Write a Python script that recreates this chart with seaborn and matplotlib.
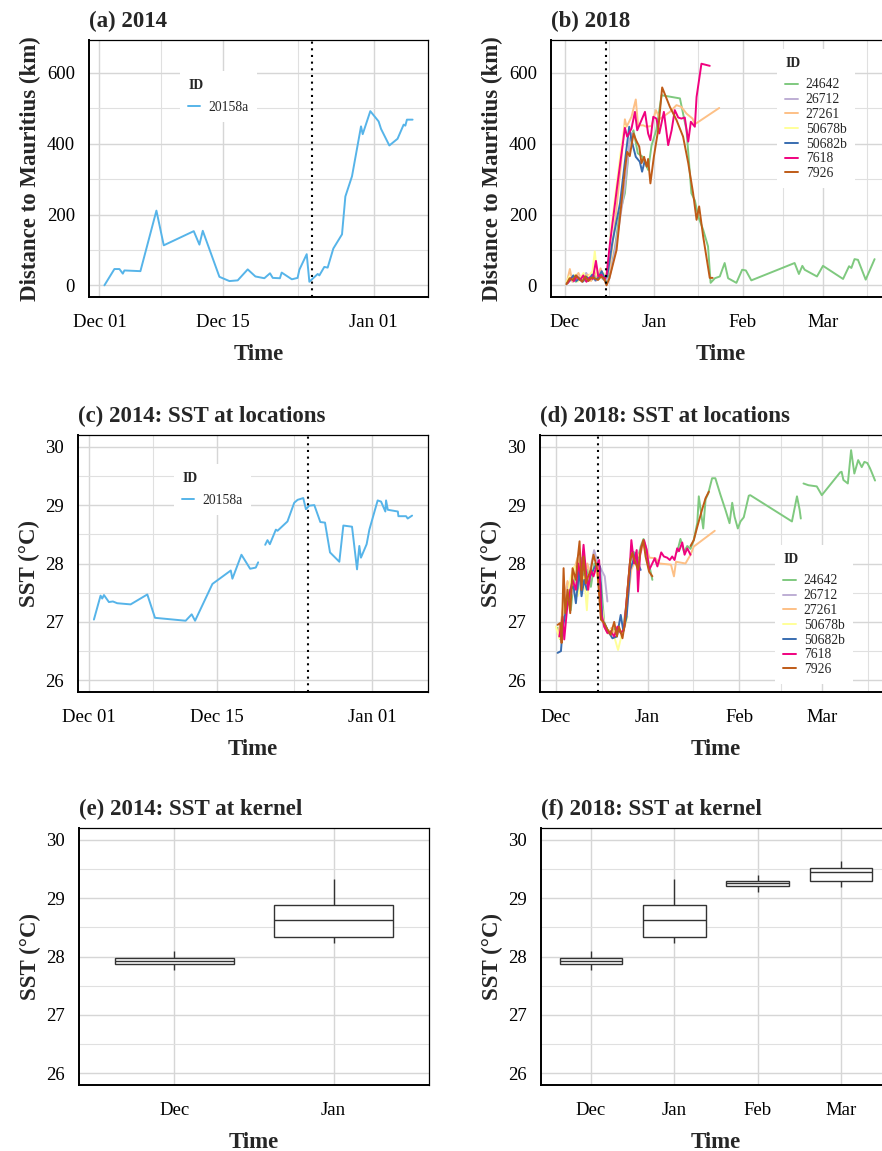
import numpy as np
import pandas as pd
import seaborn as sns
import matplotlib.pyplot as plt
import matplotlib.dates as mdates
from matplotlib.lines import Line2D
from matplotlib.ticker import MultipleLocator, FixedLocator

sns.set_style('white')
plt.rcParams['font.family'] = ['Liberation Serif', 'DejaVu Serif']

# ---- 2014 track (days after 1 Dec 2014) ----
dist14_days = [0.56, 1.69, 2.26, 2.64, 2.82, 4.63, 6.44, 7.27, 10.66, 11.30, 11.68, 13.56, 14.69, 15.63, 16.76,
               17.63, 18.64, 19.28, 19.59, 20.40, 20.60, 21.75, 22.40, 22.60, 23.43, 23.73, 24.67, 24.86, 25.42,
               25.80, 26.44, 27.42, 27.80, 28.55, 29.57, 29.76, 30.62, 31.56, 31.83, 32.77, 33.70, 34.39, 34.58,
               34.76, 35.40]
dist14_km = [0, 46, 46, 33, 42, 40, 211, 113, 153, 115, 154, 24, 12, 14, 45,
             25, 20, 34, 21, 20, 36, 17, 21, 44, 88, 10, 32, 28, 52,
             50, 104, 144, 251, 308, 449, 427, 492, 463, 442, 395, 414, 454, 451,
             468, 468]

nan = np.nan
sst14_days = [0.55, 1.28, 1.46, 1.65, 2.19, 2.63, 3.10, 4.57, 6.40, 7.24, 10.60, 11.26, 11.63, 13.53, 15.54,
              15.72, 16.71, 17.66, 18.28, 18.54, 18.90, 19.31, 19.56, 19.82, 20.48, 20.66, 21.75, 22.49, 22.86,
              23.48, 23.77, 24.14, 24.69, 25.35, 25.86, 26.41, 27.43, 27.87, 28.82, 29.37, 29.62, 29.80, 30.42,
              30.72, 31.63, 32.00, 32.47, 32.55, 32.74, 33.84, 33.90, 34.74, 34.92, 35.40]
sst14_c = [27.04, 27.45, 27.40, 27.46, 27.34, 27.35, 27.32, 27.30, 27.47, 27.07, 27.02, 27.13, 27.02, 27.65, 27.88,
           27.74, 28.15, 27.91, 27.93, 28.02, nan, 28.32, 28.40, 28.33, 28.58, 28.56, 28.72, 29.04, 29.09,
           29.12, 28.93, 28.99, 29.00, 28.71, 28.70, 28.19, 28.03, 28.65, 28.63, 27.90, 28.30, 28.10, 28.33,
           28.58, 29.08, 29.06, 28.89, 29.08, 28.92, 28.89, 28.81, 28.81, 28.77, 28.82]

# ---- 2018 tracks: distance (days after 1 Dec 2018) ----
d_24642_days = [0.6, 1.6, 2.7, 3.8, 4.9, 6.0, 7.1, 8.2, 9.3, 10.4, 11.5, 12.6, 13.7, 14.6,
                16.0, 17.5, 19.0, 20.9, 22.6, 23.9, 25.4, 27.1, 29.0, 30.2, 31.9, 33.7, 40.1, 42.4, 44.1,
                45.3, 46.5, 48.2, 49.9, 50.8, 52.3, 54.0, 55.7, 56.9, 59.8, 61.8, 63.1, 65.0, 80.1, 81.6,
                82.8, 83.6, 87.9, 90.0, 97.0, 99.1, 99.9, 101.0, 102.2, 104.9, 108.0]
d_24642_km = [5, 12, 22, 10, 18, 25, 12, 20, 15, 28, 18, 22, 15, 12,
              40, 110, 200, 260, 410, 438, 373, 363, 326, 395, 440, 537, 528, 438, 260,
              240, 194, 157, 110, 7, 20, 25, 63, 20, 7, 44, 42, 14, 63, 32,
              55, 44, 25, 55, 18, 54, 49, 74, 72, 16, 74]
d_26712_days = [0.8, 1.9, 3.0, 4.1, 5.2, 6.3, 7.4, 8.5, 9.6, 10.7, 11.8, 12.9, 14.0, 14.8,
                15.5, 17.0, 18.6, 20.0, 20.9, 22.6, 23.5]
d_26712_km = [8, 18, 10, 30, 15, 22, 35, 18, 25, 12, 30, 20, 25, 15,
              20, 80, 157, 230, 279, 410, 430]
d_27261_days = [0.6, 1.7, 2.6, 3.6, 4.7, 5.8, 6.9, 8.0, 9.1, 10.2, 11.3, 12.4, 13.5, 14.6,
                15.5, 17.5, 19.5, 20.9, 21.5, 23.2, 24.7, 25.5, 27.3, 28.4, 30.2, 31.7, 33.1, 36.6, 38.9,
                40.6, 42.4, 44.5, 45.3, 53.8]
d_27261_km = [7, 46, 10, 20, 35, 15, 25, 30, 12, 40, 20, 48, 22, 30,
              40, 180, 340, 469, 448, 476, 525, 452, 452, 448, 450, 495, 470, 490, 509,
              504, 485, 471, 455, 501]
d_50678b_days = [0.5, 1.5, 2.5, 3.5, 4.5, 5.5, 6.5, 7.5, 8.5, 9.6, 10.4, 11.2, 12.3, 13.4, 14.5,
                 15.5, 16.0, 17.5, 19.5, 20.9]
d_50678b_km = [10, 25, 15, 30, 10, 22, 35, 15, 28, 40, 96, 30, 20, 35, 25,
               80, 150, 250, 380, 450]
d_50682b_days = [0.7, 1.8, 2.9, 4.0, 5.1, 6.2, 7.3, 8.4, 9.5, 10.6, 11.7, 12.8, 13.9, 14.7,
                 15.1, 16.5, 19.2, 20.9, 22.4, 23.2, 24.7, 26.1, 26.9, 27.9]
d_50682b_km = [5, 15, 28, 12, 20, 10, 25, 18, 30, 15, 22, 40, 20, 25,
               44, 120, 232, 349, 448, 410, 363, 349, 321, 354]
d_7618_days = [0.9, 2.0, 3.1, 4.2, 5.3, 6.4, 7.5, 8.6, 9.7, 10.8, 11.6, 12.7, 13.8, 14.5,
               15.7, 18.2, 20.9, 21.7, 23.2, 24.4, 25.2, 26.7, 27.9, 29.0, 29.8, 30.8, 31.9, 32.9, 34.5,
               36.0, 37.2, 38.3, 39.5, 40.6, 41.8, 43.0, 43.9, 45.3, 45.9, 47.6, 50.5]
d_7618_km = [6, 20, 12, 25, 15, 28, 10, 22, 18, 69, 25, 30, 15, 30,
             119, 279, 445, 420, 443, 490, 438, 467, 490, 429, 410, 476, 471, 429, 490,
             396, 438, 495, 474, 471, 474, 406, 462, 448, 532, 626, 620]
d_7926_days = [0.5, 1.6, 2.7, 3.8, 4.9, 6.0, 7.1, 8.2, 9.3, 10.4, 11.5, 12.6, 13.7, 14.5,
               15.5, 18.0, 20.9, 21.7, 22.6, 23.9, 24.8, 25.9, 26.7, 27.6, 28.5, 29.0, 29.8, 31.0, 32.5,
               33.9, 36.6, 38.9, 41.2, 43.0, 44.7, 45.9, 46.8, 48.2, 50.5, 51.5]
d_7926_km = [3, 20, 15, 28, 18, 10, 25, 12, 22, 20, 15, 25, 18, 0,
             20, 100, 326, 377, 365, 429, 410, 392, 345, 363, 335, 357, 288, 363, 438,
             559, 504, 467, 420, 345, 260, 185, 223, 138, 21, 21]

# ---- 2018 tracks: SST at locations (nan = gap) ----
s_24642_days = [0.56, 1.5, 2.6, 3.9, 5.0, 6.2, 7.3, 8.4, 9.5, 10.6, 11.8, 13.0, 14.0, 15.3, 16.3,
                17.5, 18.8, 20.0, 21.2, 22.5, 23.8, 25.0, 26.3, 27.5, 28.7, 29.6, 31.0, 32.6, 36.0,
                41.0, 42.1, 43.3, 44.4, 45.5, 46.6, 47.8, 48.3, 49.8, 50.6, 51.5, 52.8, 53.9, 55.6, 57.3,
                58.7, 59.6, 60.4, 61.5, 62.4, 63.5, 65.2, 65.7, 79.8, 81.5, 82.4, 82.8, 83.2,
                83.7, 85.4, 88.2, 89.9, 96.1, 96.6, 97.2, 98.7, 99.8, 100.9, 102.2, 103.4, 104.3, 105.3,
                106.2, 106.7, 107.9]
s_24642_c = [26.9, 26.7, 27.3, 27.6, 27.2, 27.8, 27.5, 28.1, 27.7, 27.9, 27.6, 28.0, 27.85, 27.63, 27.0,
             26.85, 26.8, 26.9, 26.85, 26.8, 27.3, 28.0, 28.2, 28.05, 28.3, 28.42, 28.1, 27.72, nan,
             28.2, 28.42, 28.2, 28.3, 28.25, 28.4, 28.7, 29.15, 28.6, 29.1, 29.2, 29.46, 29.46, 29.18, 28.92,
             28.69, 29.04, 28.8, 28.6, 28.72, 28.79, 29.16, 29.17, 28.72, 29.15, 28.92, 28.77, nan,
             29.37, 29.34, 29.32, 29.17, 29.56, 29.57, 29.43, 29.37, 29.94, 29.54, 29.77, 29.65, 29.74, 29.72,
             29.63, 29.57, 29.42]
s_26712_days = [1.12, 2.8, 3.93, 5.06, 6.74, 8.43, 10.1, 11.8, 12.9, 14.0, 15.4, 16.5, 17.4]
s_26712_c = [26.87, 27.21, 27.61, 27.44, 27.66, 27.78, 27.55, 27.95, 28.23, 28.03, 27.89, 27.78, 27.35]
s_27261_days = [0.6, 1.7, 2.8, 3.9, 5.0, 6.2, 7.3, 8.4, 9.5, 10.6, 11.8, 13.0, 14.2, 15.3, 16.5,
                17.6, 18.8, 20.0, 21.2, 22.4, 23.5, 24.6, 25.5, 27.3, 28.7, 30.0, 31.6, 33.7, 35.0,
                38.9, 39.9, 40.6, 43.8, 45.5, 46.6, 53.7]
s_27261_c = [26.8, 27.0, 27.4, 27.7, 27.5, 27.9, 28.1, 27.8, 27.6, 28.0, 27.8, 27.9, 28.0, 27.3, 26.9,
             26.8, 26.9, 26.8, 26.9, 26.8, 27.0, 27.5, 27.9, 28.1, 28.2, 28.35, 28.1, 28.09, 28.0,
             27.98, 27.78, 28.03, 28.0, 28.15, 28.29, 28.56]
s_50678b_days = [0.0, 1.12, 2.8, 3.93, 5.06, 6.18, 7.3, 8.43, 9.55, 10.45, 11.2, 12.4, 13.5, 15.2, 16.3,
                 17.4, 18.5, 19.7, 21.0, 22.1, 23.3, 24.2]
s_50678b_c = [26.92, 26.72, 27.32, 27.44, 27.78, 27.95, 27.44, 27.61, 27.78, 27.2, 27.83, 27.89, 27.92, 27.44,
              26.92, 26.84, 26.87, 26.75, 26.52, 26.75, 26.92, 27.09]
s_50682b_days = [0.56, 1.69, 2.25, 3.37, 4.16, 4.83, 5.96, 6.74, 7.87, 8.65, 9.55, 10.45, 11.6, 12.9, 14.0,
                 14.9, 15.7, 16.85, 18.0, 19.1, 20.6, 21.9, 22.8, 23.9, 25.1, 25.8, 27.0, 27.75, 28.65]
s_50682b_c = [26.47, 26.5, 26.87, 27.21, 27.32, 27.55, 27.61, 27.32, 27.89, 27.44, 27.72, 27.55, 27.78, 27.92, 28.0,
              27.95, 27.04, 26.92, 26.81, 26.72, 26.75, 27.12, 26.84, 27.09, 27.89, 28.0, 28.18, 28.0, 27.89]
s_7618_days = [1.12, 2.25, 2.8, 3.93, 5.62, 6.74, 7.53, 8.43, 9.33, 10.1, 10.9, 11.8, 12.7, 13.5, 14.6,
               15.4, 16.3, 17.4, 18.5, 19.7, 20.8, 21.9, 23.0, 24.2, 25.1, 25.5, 26.4, 27.3, 27.75,
               28.4, 28.9, 29.8, 30.7, 31.5, 32.2, 33.4, 34.3, 35.6, 36.5, 37.6, 38.5, 39.3, 40.1,
               41.0, 41.6, 42.7, 43.5, 44.4, 45.5]
s_7618_c = [26.75, 27.09, 26.70, 27.32, 27.72, 27.55, 28.0, 27.78, 28.32, 27.89, 27.55, 27.89, 27.78, 27.92, 28.06,
            27.12, 26.92, 26.81, 26.84, 26.75, 26.92, 26.81, 26.87, 27.55, 28.06, 28.40, 28.0, 28.23, 27.52,
            28.12, 28.29, 28.40, 28.23, 27.89, 27.96, 28.09, 27.95, 28.19, 28.12, 28.10, 28.06, 28.12, 28.06,
            28.26, 28.21, 28.36, 28.15, 28.26, 28.15]
s_7926_days = [0.56, 1.46, 1.91, 2.58, 3.15, 3.93, 4.83, 5.62, 6.74, 7.3, 7.98, 8.65, 9.33, 10.1, 10.9,
               11.8, 12.7, 13.5, 14.0, 15.2, 16.3, 17.4, 18.5, 19.7, 20.6, 21.3, 22.5, 23.3, 24.2,
               25.1, 25.8, 27.0, 27.75, 28.65, 29.55, 30.3, 31.5, 32.6, 39.0,
               45.5, 46.6, 47.8, 49.4, 50.6, 51.7]
s_7926_c = [26.95, 26.98, 26.64, 27.92, 27.15, 27.55, 27.15, 27.92, 27.72, 28.06, 28.38, 27.55, 28.12, 27.66, 27.78,
            27.89, 28.15, 28.0, 27.89, 27.04, 26.98, 26.87, 26.78, 27.0, 26.75, 26.92, 26.72, 26.98, 27.55,
            28.06, 28.18, 28.0, 27.89, 28.23, 28.40, 28.12, 27.86, 27.78, nan,
            28.30, 28.40, 28.63, 28.92, 29.12, 29.23]

# ---- SST at kernel, five-number summaries per month ----
kernel_months_14 = ['Dec', 'Jan']
kernel_months_18 = ['Dec', 'Jan', 'Feb', 'Mar']
kernel_dec = [27.77, 27.88, 27.93, 27.97, 28.09]
kernel_jan = [28.23, 28.33, 28.62, 28.89, 29.32]
kernel_feb = [29.11, 29.20, 29.25, 29.30, 29.39]
kernel_mar = [29.19, 29.30, 29.44, 29.52, 29.63]

ids_2014 = ['20158a']
ids_2018 = ['24642', '26712', '27261', '50678b', '50682b', '7618', '7926']
pal14 = {'20158a': '#56B4E9'}
pal18 = dict(zip(ids_2018, ['#7FC97F', '#BEAED4', '#FDC086', '#FFFF99', '#386CB0', '#F0027F', '#BF5B17']))

event_2014 = '2014-12-25'
event_2018 = '2018-12-15 08:00'
ticks_2014 = ['2014-11-15', '2014-12-01', '2014-12-15', '2015-01-01', '2015-01-15']
ticks_2018 = ['2018-11-01', '2018-12-01', '2019-01-01', '2019-02-01', '2019-03-01', '2019-04-01']


def track_frame(tracks, start):
    parts = []
    for ident, (days, vals) in tracks.items():
        part = pd.DataFrame({'days': days, 'value': vals})
        part['seg'] = part['value'].isna().cumsum()
        part = part.dropna().copy()
        part['ID'] = ident
        part['Time'] = pd.Timestamp(start) + pd.to_timedelta(part['days'], unit='D')
        parts.append(part)
    return pd.concat(parts, ignore_index=True)


dist14 = track_frame({'20158a': (dist14_days, dist14_km)}, '2014-12-01')
sst14 = track_frame({'20158a': (sst14_days, sst14_c)}, '2014-12-01')
dist18 = track_frame({'24642': (d_24642_days, d_24642_km), '26712': (d_26712_days, d_26712_km),
                      '27261': (d_27261_days, d_27261_km), '50678b': (d_50678b_days, d_50678b_km),
                      '50682b': (d_50682b_days, d_50682b_km), '7618': (d_7618_days, d_7618_km),
                      '7926': (d_7926_days, d_7926_km)}, '2018-12-01')
sst18 = track_frame({'24642': (s_24642_days, s_24642_c), '26712': (s_26712_days, s_26712_c),
                     '27261': (s_27261_days, s_27261_c), '50678b': (s_50678b_days, s_50678b_c),
                     '50682b': (s_50682b_days, s_50682b_c), '7618': (s_7618_days, s_7618_c),
                     '7926': (s_7926_days, s_7926_c)}, '2018-12-01')

kern14 = pd.DataFrame({'month': np.repeat(kernel_months_14, 5),
                       'sst': kernel_dec + kernel_jan})
kern18 = pd.DataFrame({'month': np.repeat(kernel_months_18, 5),
                       'sst': kernel_dec + kernel_jan + kernel_feb + kernel_mar})

W, H = 882, 1151
fig = plt.figure(figsize=(W / 100, H / 100), dpi=100)


def px_axes(x0, y0, x1, y1):
    return fig.add_axes([x0 / W, 1 - y1 / H, (x1 - x0) / W, (y1 - y0) / H])


ax_a = px_axes(89, 40, 428, 297)
ax_b = px_axes(551, 40, 890, 297)
ax_c = px_axes(78, 435, 428, 692)
ax_d = px_axes(540, 435, 891, 692)
ax_e = px_axes(79, 828, 429, 1085)
ax_f = px_axes(541, 828, 891, 1085)


def style_panel(ax, title, ylabel):
    ax.set_title(title, loc='left', fontweight='bold', fontsize=16.5, pad=9)
    ax.set_xlabel('Time', fontweight='bold', fontsize=16.5, labelpad=9)
    ax.set_ylabel(ylabel, fontweight='bold', fontsize=16.5, labelpad=4)
    ax.grid(True, which='major', color='#D6D6D6', linewidth=1.0)
    ax.grid(True, which='minor', color='#E0E0E0', linewidth=0.8)
    ax.set_axisbelow(True)
    ax.tick_params(which='major', length=5, width=1.4, color='#333333', labelsize=13.5,
                   labelcolor='black', pad=5)
    ax.tick_params(axis='x', which='major', pad=7.5)
    ax.tick_params(which='minor', length=0)
    for side, sp in ax.spines.items():
        sp.set_visible(True)
        sp.set_color('black')
        sp.set_linewidth(1.4 if side in ('left', 'bottom') else 0.9)


def draw_tracks(ax, df, pal, order):
    sns.lineplot(data=df, x='Time', y='value', hue='ID', hue_order=order, palette=pal,
                 units='seg', estimator=None, sort=False, linewidth=1.4, legend=False, ax=ax)


def date_axis(ax, df, tick_dates, fmt):
    nums = mdates.date2num(pd.to_datetime(tick_dates))
    ax.xaxis.set_major_locator(FixedLocator(nums))
    ax.xaxis.set_minor_locator(FixedLocator((nums[:-1] + nums[1:]) / 2))
    ax.xaxis.set_major_formatter(mdates.DateFormatter(fmt))
    lo = mdates.date2num(df['Time'].min())
    hi = mdates.date2num(df['Time'].max())
    pad = (hi - lo) * 0.05
    ax.set_xlim(lo - pad, hi + pad)


def add_legend(ax, pal, order, anchor):
    handles = [Line2D([], [], color=pal[i], lw=1.4) for i in order]
    leg = ax.legend(handles, order, title='ID', loc='upper left', bbox_to_anchor=anchor, borderaxespad=0,
                    fontsize=9.8, title_fontproperties={'weight': 'bold', 'size': 9.8}, frameon=True,
                    facecolor='white', edgecolor='none', framealpha=1, fancybox=False, borderpad=0.6,
                    handlelength=0.9, handletextpad=0.6, labelspacing=0.13, alignment='left')
    leg._legend_box.sep = 6


def dist_axis(ax):
    ax.set_ylim(0 - 33, 660 + 33)
    ax.yaxis.set_major_locator(MultipleLocator(200))
    ax.yaxis.set_minor_locator(MultipleLocator(100))


def sst_axis(ax):
    ax.set_ylim(25.8, 30.2)
    ax.yaxis.set_major_locator(MultipleLocator(1))
    ax.yaxis.set_minor_locator(MultipleLocator(0.5))


dotted = (0, (1, 2.2))

# (a)
draw_tracks(ax_a, dist14, pal14, ids_2014)
ax_a.axvline(pd.Timestamp(event_2014), color='black', lw=1.5, ls=dotted)
date_axis(ax_a, dist14, ticks_2014, '%b %d')
dist_axis(ax_a)
style_panel(ax_a, '(a) 2014', 'Distance to Mauritius (km)')
add_legend(ax_a, pal14, ids_2014, (0.268, 0.879))

# (b)
draw_tracks(ax_b, dist18, pal18, ids_2018)
ax_b.axvline(pd.Timestamp(event_2018), color='black', lw=1.5, ls=dotted)
date_axis(ax_b, dist18, ticks_2018, '%b')
dist_axis(ax_b)
style_panel(ax_b, '(b) 2018', 'Distance to Mauritius (km)')
add_legend(ax_b, pal18, ids_2018, (0.667, 0.965))

# (c)
draw_tracks(ax_c, sst14, pal14, ids_2014)
ax_c.axvline(pd.Timestamp(event_2014), color='black', lw=1.5, ls=dotted)
date_axis(ax_c, sst14, ticks_2014, '%b %d')
sst_axis(ax_c)
style_panel(ax_c, '(c) 2014: SST at locations', 'SST (°C)')
add_legend(ax_c, pal14, ids_2014, (0.274, 0.887))

# (d)
draw_tracks(ax_d, sst18, pal18, ids_2018)
ax_d.axvline(pd.Timestamp(event_2018), color='black', lw=1.5, ls=dotted)
date_axis(ax_d, sst18, ticks_2018, '%b')
sst_axis(ax_d)
style_panel(ax_d, '(d) 2018: SST at locations', 'SST (°C)')
add_legend(ax_d, pal18, ids_2018, (0.670, 0.572))

# (e), (f)
for ax, df, months, title in [(ax_e, kern14, kernel_months_14, '(e) 2014: SST at kernel'),
                              (ax_f, kern18, kernel_months_18, '(f) 2018: SST at kernel')]:
    sns.boxplot(data=df, x='month', y='sst', order=months, whis=np.inf, width=0.75, color='white',
                linecolor='#333333', linewidth=1.0, showcaps=False, ax=ax)
    ax.set_xlim(-0.6, len(months) - 0.4)
    sst_axis(ax)
    style_panel(ax, title, 'SST (°C)')

fig.savefig('out.png', dpi=100)
